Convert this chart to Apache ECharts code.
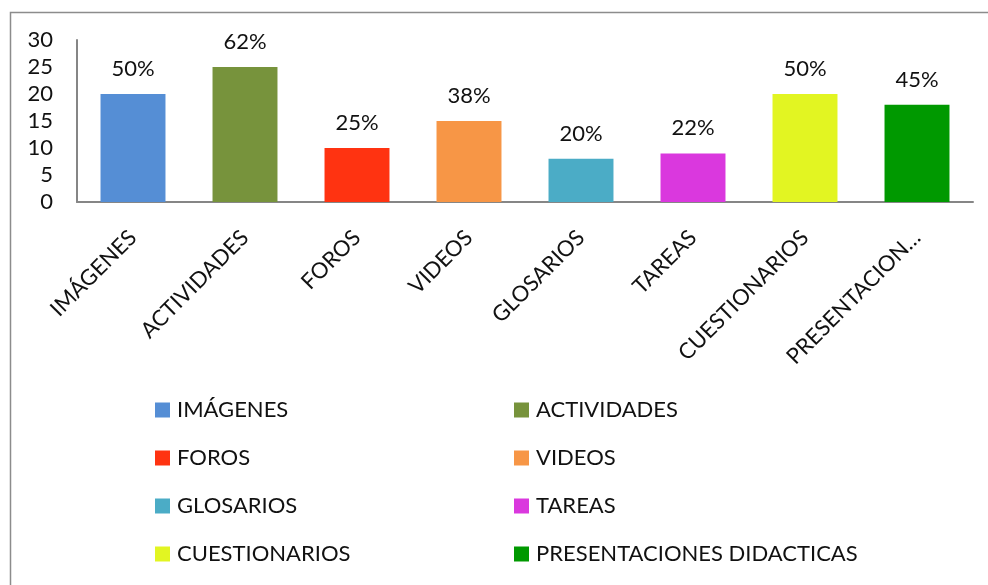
<!DOCTYPE html>
<html>
<head>
<meta charset="utf-8">
<script src="https://cdn.jsdelivr.net/npm/echarts@6/dist/echarts.min.js"></script>
<style>
  html, body { margin: 0; padding: 0; background: #fff; }
  #chart { width: 988px; height: 585px; }
</style>
</head>
<body>
<div id="chart"></div>
<script>
  // datos
  const categorias = ['IMÁGENES', 'ACTIVIDADES', 'FOROS', 'VIDEOS', 'GLOSARIOS', 'TAREAS', 'CUESTIONARIOS', 'PRESENTACIONES DIDACTICAS'];
  const valores = [20, 25, 10, 15, 8, 9, 20, 18];
  const porcentajes = ['50%', '62%', '25%', '38%', '20%', '22%', '50%', '45%'];
  const colores = ['#558ed5', '#77933c', '#ff3311', '#f79646', '#4bacc6', '#da38de', '#e2f522', '#009900'];
  const yTicks = [0, 5, 10, 15, 20, 25, 30];

  const fuente = 'Lato, "Open Sans", sans-serif';

  let myChart = echarts.init(document.getElementById('chart'));

  let series = categorias.map((nombre, i) => ({
    name: nombre,
    type: 'bar',
    stack: 'uno',
    barWidth: '58%',
    itemStyle: { color: colores[i] },
    label: {
      show: true,
      position: 'top',
      distance: 14,
      formatter: () => porcentajes[i],
      color: '#111',
      fontSize: 22,
      fontFamily: fuente
    },
    data: categorias.map((c, j) => j === i ? valores[i] : '-')
  }));

  let legendText = { color: '#111', fontSize: 22, fontFamily: fuente, lineHeight: 22, padding: [0, 0, 0, 2] };

  let option = {
    animation: false,
    graphic: [{
      type: 'rect',
      left: 8, top: 10,
      shape: { width: 1000, height: 600 },
      style: { fill: 'none', stroke: '#8c8c8c', lineWidth: 1.5 },
      silent: true
    }],
    grid: { left: 77, right: 15, top: 40, bottom: 383, containLabel: false },
    legend: [
      {
        orient: 'vertical',
        left: 155, top: 399,
        padding: 0,
        itemWidth: 15, itemHeight: 15, itemGap: 26,
        icon: 'rect',
        textStyle: legendText,
        data: categorias.filter((c, i) => i % 2 === 0)
      },
      {
        orient: 'vertical',
        left: 514, top: 399,
        padding: 0,
        itemWidth: 15, itemHeight: 15, itemGap: 26,
        icon: 'rect',
        textStyle: legendText,
        data: categorias.filter((c, i) => i % 2 === 1)
      }
    ],
    xAxis: {
      type: 'category',
      data: categorias,
      axisLine: { lineStyle: { color: '#868686', width: 2 } },
      axisTick: { show: false },
      axisLabel: {
        rotate: 45,
        interval: 0,
        margin: 32,
        color: '#111',
        fontSize: 22,
        fontFamily: fuente,
        formatter: v => v.length > 14 ? v.slice(0, 12) + '…' : v
      }
    },
    yAxis: {
      type: 'value',
      min: yTicks[0],
      max: yTicks[yTicks.length - 1],
      interval: 5,
      axisLine: { show: true, lineStyle: { color: '#868686', width: 2 } },
      axisTick: { show: false },
      splitLine: { show: false },
      axisLabel: {
        margin: 24,
        color: '#111',
        fontSize: 22,
        fontFamily: fuente
      }
    },
    series: series
  };

  myChart.setOption(option);
</script>
</body>
</html>
